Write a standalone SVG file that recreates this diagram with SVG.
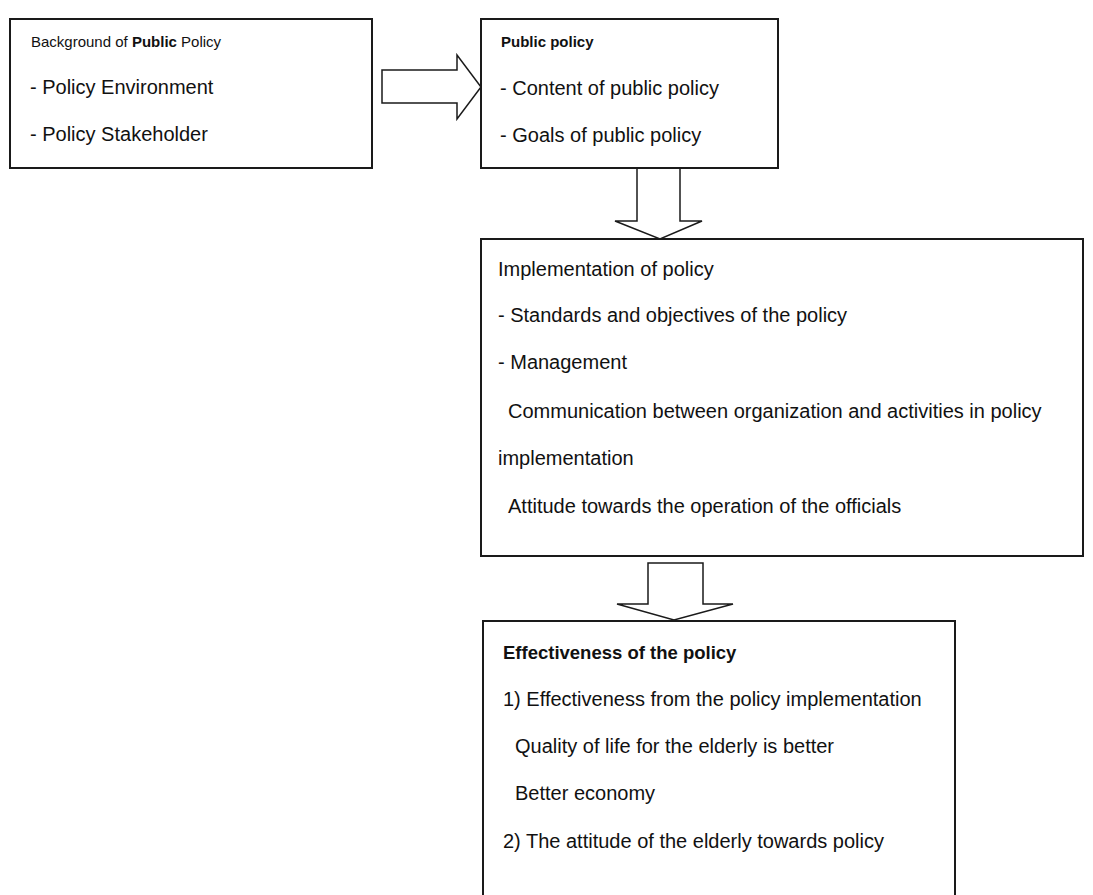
<svg xmlns="http://www.w3.org/2000/svg" width="1093" height="895" viewBox="0 0 1093 895">
<style>
.box{fill:#fff;stroke:#1a1a1a;stroke-width:2}
.arr{fill:#fff;stroke:#1a1a1a;stroke-width:1.5;stroke-linejoin:miter}
text{font-family:"Liberation Sans",Arial,sans-serif;fill:#111}
.b{font-size:20px}
.h{font-size:15px}
.hb{font-size:18.5px;font-weight:bold}
</style>
<rect width="1093" height="895" fill="#fff"/>
<g id="connectors">
<polygon class="arr" points="382,70 457,70 457,55 481,87 457,119 457,103 382,103"/>
<polygon class="arr" points="637,168 680,168 680,221 702,221 660,239 615,221 637,221"/>
<polygon class="arr" points="648,563 703,563 703,604 733,604 674,620 617,604 648,604"/>
</g>
<g id="node-background">
<rect class="box" x="10" y="19" width="362" height="149"/>
<text class="h" x="31" y="47">Background of <tspan font-weight="bold">Public</tspan> Policy</text>
<text class="b" x="30" y="94">- Policy Environment</text>
<text class="b" x="30" y="141">- Policy Stakeholder</text>
</g>
<g id="node-public-policy">
<rect class="box" x="481" y="19" width="297" height="149"/>
<text class="h" x="501" y="47" font-weight="bold">Public policy</text>
<text class="b" x="500" y="95">- Content of public policy</text>
<text class="b" x="500" y="142">- Goals of public policy</text>
</g>
<g id="node-implementation">
<rect class="box" x="481" y="239" width="602" height="317"/>
<text class="b" x="498" y="276" font-size="19.5">Implementation of policy</text>
<text class="b" x="498" y="322">- Standards and objectives of the policy</text>
<text class="b" x="498" y="369">- Management</text>
<text class="b" x="508" y="418">Communication between organization and activities in policy</text>
<text class="b" x="498" y="465">implementation</text>
<text class="b" x="508" y="513">Attitude towards the operation of the officials</text>
</g>
<g id="node-effectiveness">
<rect class="box" x="483" y="621" width="472" height="300"/>
<text class="hb" x="503" y="659">Effectiveness of the policy</text>
<text class="b" x="503" y="706">1) Effectiveness from the policy implementation</text>
<text class="b" x="515" y="753">Quality of life for the elderly is better</text>
<text class="b" x="515" y="800">Better economy</text>
<text class="b" x="503" y="848">2) The attitude of the elderly towards policy</text>
</g>
</svg>
